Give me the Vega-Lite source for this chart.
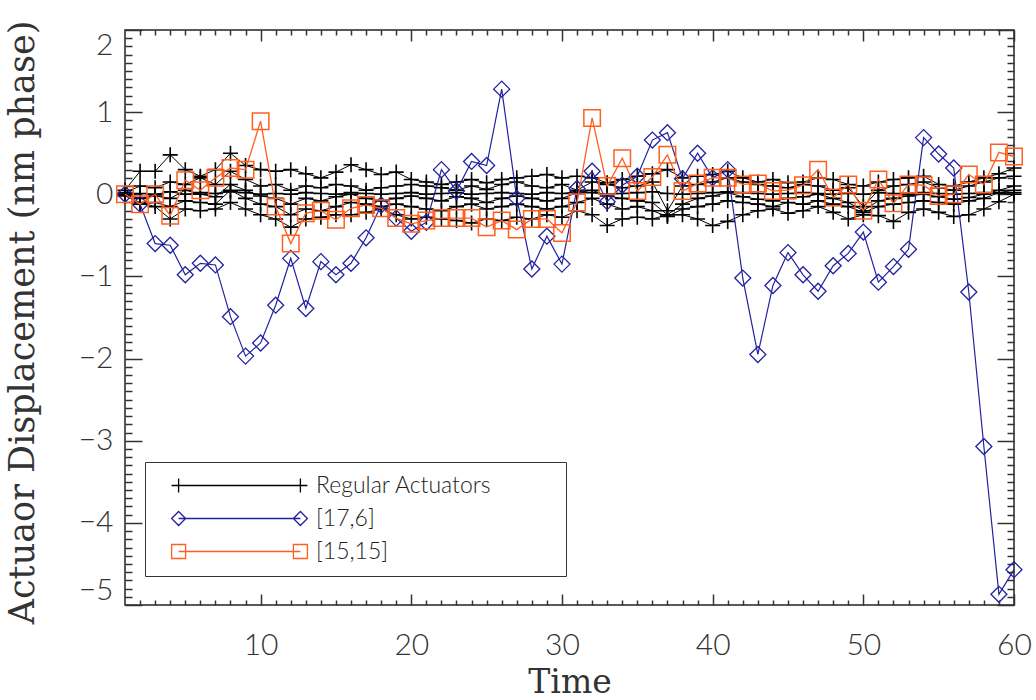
{
"$schema":"https://vega.github.io/schema/vega-lite/v6.json",
"width":889,"height":575,
"autosize":{"type":"none"},
"padding":{"left":125,"top":30,"right":22,"bottom":95},
"background":"white",
"config":{
"view":{"stroke":"#222","strokeWidth":1.5},
"axis":{"domain":false,"grid":false,"tickColor":"#333","tickWidth":1.5,"labelFont":"Lato","labelFontWeight":300,"labelFontSize":30,"labelColor":"#333","titleFont":"DejaVu Serif","titleFontSize":33,"titleColor":"#333","titleFontWeight":"normal"}
},
"datasets":{
"regular":[
{"a":1,"x":1,"y":0.05},{"a":1,"x":2,"y":0.28},{"a":1,"x":3,"y":0.28},{"a":1,"x":4,"y":0.48},{"a":1,"x":5,"y":0.3},{"a":1,"x":6,"y":0.22},{"a":1,"x":7,"y":0.3},{"a":1,"x":8,"y":0.5},{"a":1,"x":9,"y":0.35},{"a":1,"x":10,"y":0.3},
{"a":1,"x":11,"y":0.28},{"a":1,"x":12,"y":0.3},{"a":1,"x":13,"y":0.25},{"a":1,"x":14,"y":0.2},{"a":1,"x":15,"y":0.27},{"a":1,"x":16,"y":0.36},{"a":1,"x":17,"y":0.3},{"a":1,"x":18,"y":0.24},{"a":1,"x":19,"y":0.27},{"a":1,"x":20,"y":0.18},
{"a":1,"x":21,"y":0.15},{"a":1,"x":22,"y":0.12},{"a":1,"x":23,"y":0.15},{"a":1,"x":24,"y":0.18},{"a":1,"x":25,"y":0.14},{"a":1,"x":26,"y":0.18},{"a":1,"x":27,"y":0.2},{"a":1,"x":28,"y":0.22},{"a":1,"x":29,"y":0.24},{"a":1,"x":30,"y":0.2},
{"a":1,"x":31,"y":0.22},{"a":1,"x":32,"y":0.2},{"a":1,"x":33,"y":0.14},{"a":1,"x":34,"y":0.18},{"a":1,"x":35,"y":0.22},{"a":1,"x":36,"y":0.25},{"a":1,"x":37,"y":0.3},{"a":1,"x":38,"y":0.2},{"a":1,"x":39,"y":0.22},{"a":1,"x":40,"y":0.24},
{"a":1,"x":41,"y":0.28},{"a":1,"x":42,"y":0.2},{"a":1,"x":43,"y":0.15},{"a":1,"x":44,"y":0.18},{"a":1,"x":45,"y":0.14},{"a":1,"x":46,"y":0.15},{"a":1,"x":47,"y":0.2},{"a":1,"x":48,"y":0.18},{"a":1,"x":49,"y":0.12},{"a":1,"x":50,"y":0.1},
{"a":1,"x":51,"y":0.15},{"a":1,"x":52,"y":0.18},{"a":1,"x":53,"y":0.2},{"a":1,"x":54,"y":0.22},{"a":1,"x":55,"y":0.12},{"a":1,"x":56,"y":0.1},{"a":1,"x":57,"y":0.15},{"a":1,"x":58,"y":0.2},{"a":1,"x":59,"y":0.25},{"a":1,"x":60,"y":0.32},
{"a":2,"x":1,"y":0.02},{"a":2,"x":2,"y":0.1},{"a":2,"x":3,"y":0.08},{"a":2,"x":4,"y":0.15},{"a":2,"x":5,"y":0.12},{"a":2,"x":6,"y":0.2},{"a":2,"x":7,"y":0.12},{"a":2,"x":8,"y":0.28},{"a":2,"x":9,"y":0.18},{"a":2,"x":10,"y":0.1},
{"a":2,"x":11,"y":0.12},{"a":2,"x":12,"y":0.05},{"a":2,"x":13,"y":0.1},{"a":2,"x":14,"y":0.08},{"a":2,"x":15,"y":0.12},{"a":2,"x":16,"y":0.1},{"a":2,"x":17,"y":0.05},{"a":2,"x":18,"y":0.08},{"a":2,"x":19,"y":0.1},{"a":2,"x":20,"y":0.12},
{"a":2,"x":21,"y":0.1},{"a":2,"x":22,"y":0.08},{"a":2,"x":23,"y":0.05},{"a":2,"x":24,"y":0.1},{"a":2,"x":25,"y":0.06},{"a":2,"x":26,"y":0.12},{"a":2,"x":27,"y":0.15},{"a":2,"x":28,"y":0.1},{"a":2,"x":29,"y":0.08},{"a":2,"x":30,"y":0.12},
{"a":2,"x":31,"y":0.05},{"a":2,"x":32,"y":0.15},{"a":2,"x":33,"y":0.12},{"a":2,"x":34,"y":0.08},{"a":2,"x":35,"y":0.1},{"a":2,"x":36,"y":0.15},{"a":2,"x":37,"y":-0.2},{"a":2,"x":38,"y":0.1},{"a":2,"x":39,"y":0.12},{"a":2,"x":40,"y":0.15},
{"a":2,"x":41,"y":0.2},{"a":2,"x":42,"y":0.15},{"a":2,"x":43,"y":0.12},{"a":2,"x":44,"y":0.1},{"a":2,"x":45,"y":0.08},{"a":2,"x":46,"y":0.12},{"a":2,"x":47,"y":0.1},{"a":2,"x":48,"y":0.05},{"a":2,"x":49,"y":0.08},{"a":2,"x":50,"y":-0.15},
{"a":2,"x":51,"y":0.05},{"a":2,"x":52,"y":0.1},{"a":2,"x":53,"y":0.12},{"a":2,"x":54,"y":0.15},{"a":2,"x":55,"y":0.08},{"a":2,"x":56,"y":0.05},{"a":2,"x":57,"y":0.1},{"a":2,"x":58,"y":0.15},{"a":2,"x":59,"y":0.2},{"a":2,"x":60,"y":0.22},
{"a":3,"x":1,"y":0.0},{"a":3,"x":2,"y":0.01},{"a":3,"x":3,"y":0.0},{"a":3,"x":4,"y":0.03},{"a":3,"x":5,"y":0.0},{"a":3,"x":6,"y":0.02},{"a":3,"x":7,"y":0.01},{"a":3,"x":8,"y":0.03},{"a":3,"x":9,"y":0.02},{"a":3,"x":10,"y":0.0},
{"a":3,"x":11,"y":0.01},{"a":3,"x":12,"y":0.0},{"a":3,"x":13,"y":0.02},{"a":3,"x":14,"y":0.01},{"a":3,"x":15,"y":0.0},{"a":3,"x":16,"y":0.02},{"a":3,"x":17,"y":0.01},{"a":3,"x":18,"y":0.0},{"a":3,"x":19,"y":0.01},{"a":3,"x":20,"y":0.02},
{"a":3,"x":21,"y":0.0},{"a":3,"x":22,"y":0.01},{"a":3,"x":23,"y":0.02},{"a":3,"x":24,"y":0.0},{"a":3,"x":25,"y":0.01},{"a":3,"x":26,"y":0.02},{"a":3,"x":27,"y":0.01},{"a":3,"x":28,"y":0.0},{"a":3,"x":29,"y":0.02},{"a":3,"x":30,"y":0.01},
{"a":3,"x":31,"y":0.03},{"a":3,"x":32,"y":0.02},{"a":3,"x":33,"y":0.0},{"a":3,"x":34,"y":0.01},{"a":3,"x":35,"y":0.02},{"a":3,"x":36,"y":0.03},{"a":3,"x":37,"y":0.01},{"a":3,"x":38,"y":0.0},{"a":3,"x":39,"y":0.01},{"a":3,"x":40,"y":0.02},
{"a":3,"x":41,"y":0.03},{"a":3,"x":42,"y":0.02},{"a":3,"x":43,"y":0.01},{"a":3,"x":44,"y":0.0},{"a":3,"x":45,"y":0.01},{"a":3,"x":46,"y":0.02},{"a":3,"x":47,"y":0.01},{"a":3,"x":48,"y":0.0},{"a":3,"x":49,"y":0.01},{"a":3,"x":50,"y":0.0},
{"a":3,"x":51,"y":0.02},{"a":3,"x":52,"y":0.01},{"a":3,"x":53,"y":0.0},{"a":3,"x":54,"y":0.02},{"a":3,"x":55,"y":0.01},{"a":3,"x":56,"y":0.0},{"a":3,"x":57,"y":0.01},{"a":3,"x":58,"y":0.02},{"a":3,"x":59,"y":0.01},{"a":3,"x":60,"y":0.02},
{"a":4,"x":1,"y":0.0},{"a":4,"x":2,"y":-0.05},{"a":4,"x":3,"y":-0.02},{"a":4,"x":4,"y":-0.05},{"a":4,"x":5,"y":0.05},{"a":4,"x":6,"y":0.0},{"a":4,"x":7,"y":-0.03},{"a":4,"x":8,"y":0.12},{"a":4,"x":9,"y":0.05},{"a":4,"x":10,"y":-0.02},
{"a":4,"x":11,"y":-0.05},{"a":4,"x":12,"y":-0.12},{"a":4,"x":13,"y":-0.05},{"a":4,"x":14,"y":-0.08},{"a":4,"x":15,"y":-0.03},{"a":4,"x":16,"y":0.0},{"a":4,"x":17,"y":-0.05},{"a":4,"x":18,"y":-0.08},{"a":4,"x":19,"y":-0.05},{"a":4,"x":20,"y":-0.02},
{"a":4,"x":21,"y":-0.05},{"a":4,"x":22,"y":-0.08},{"a":4,"x":23,"y":-0.03},{"a":4,"x":24,"y":-0.05},{"a":4,"x":25,"y":-0.1},{"a":4,"x":26,"y":-0.05},{"a":4,"x":27,"y":-0.02},{"a":4,"x":28,"y":-0.05},{"a":4,"x":29,"y":-0.08},{"a":4,"x":30,"y":-0.05},
{"a":4,"x":31,"y":0.02},{"a":4,"x":32,"y":0.05},{"a":4,"x":33,"y":-0.02},{"a":4,"x":34,"y":-0.05},{"a":4,"x":35,"y":-0.08},{"a":4,"x":36,"y":-0.1},{"a":4,"x":37,"y":-0.25},{"a":4,"x":38,"y":-0.12},{"a":4,"x":39,"y":-0.05},{"a":4,"x":40,"y":-0.02},
{"a":4,"x":41,"y":0.02},{"a":4,"x":42,"y":-0.03},{"a":4,"x":43,"y":-0.06},{"a":4,"x":44,"y":-0.08},{"a":4,"x":45,"y":-0.05},{"a":4,"x":46,"y":-0.03},{"a":4,"x":47,"y":0.0},{"a":4,"x":48,"y":-0.05},{"a":4,"x":49,"y":-0.1},{"a":4,"x":50,"y":-0.2},
{"a":4,"x":51,"y":-0.08},{"a":4,"x":52,"y":-0.05},{"a":4,"x":53,"y":-0.02},{"a":4,"x":54,"y":0.0},{"a":4,"x":55,"y":-0.03},{"a":4,"x":56,"y":-0.06},{"a":4,"x":57,"y":-0.04},{"a":4,"x":58,"y":0.0},{"a":4,"x":59,"y":0.05},{"a":4,"x":60,"y":0.1},
{"a":5,"x":1,"y":-0.01},{"a":5,"x":2,"y":-0.12},{"a":5,"x":3,"y":-0.1},{"a":5,"x":4,"y":-0.15},{"a":5,"x":5,"y":-0.08},{"a":5,"x":6,"y":-0.1},{"a":5,"x":7,"y":-0.12},{"a":5,"x":8,"y":0.05},{"a":5,"x":9,"y":-0.05},{"a":5,"x":10,"y":-0.12},
{"a":5,"x":11,"y":-0.15},{"a":5,"x":12,"y":-0.25},{"a":5,"x":13,"y":-0.18},{"a":5,"x":14,"y":-0.2},{"a":5,"x":15,"y":-0.15},{"a":5,"x":16,"y":-0.1},{"a":5,"x":17,"y":-0.12},{"a":5,"x":18,"y":-0.15},{"a":5,"x":19,"y":-0.12},{"a":5,"x":20,"y":-0.15},
{"a":5,"x":21,"y":-0.18},{"a":5,"x":22,"y":-0.2},{"a":5,"x":23,"y":-0.15},{"a":5,"x":24,"y":-0.12},{"a":5,"x":25,"y":-0.18},{"a":5,"x":26,"y":-0.15},{"a":5,"x":27,"y":-0.12},{"a":5,"x":28,"y":-0.15},{"a":5,"x":29,"y":-0.18},{"a":5,"x":30,"y":-0.15},
{"a":5,"x":31,"y":-0.1},{"a":5,"x":32,"y":-0.05},{"a":5,"x":33,"y":-0.12},{"a":5,"x":34,"y":-0.18},{"a":5,"x":35,"y":-0.15},{"a":5,"x":36,"y":-0.2},{"a":5,"x":37,"y":-0.27},{"a":5,"x":38,"y":-0.18},{"a":5,"x":39,"y":-0.15},{"a":5,"x":40,"y":-0.12},
{"a":5,"x":41,"y":-0.08},{"a":5,"x":42,"y":-0.1},{"a":5,"x":43,"y":-0.12},{"a":5,"x":44,"y":-0.15},{"a":5,"x":45,"y":-0.1},{"a":5,"x":46,"y":-0.12},{"a":5,"x":47,"y":-0.08},{"a":5,"x":48,"y":-0.12},{"a":5,"x":49,"y":-0.15},{"a":5,"x":50,"y":-0.22},
{"a":5,"x":51,"y":-0.15},{"a":5,"x":52,"y":-0.12},{"a":5,"x":53,"y":-0.1},{"a":5,"x":54,"y":-0.08},{"a":5,"x":55,"y":-0.1},{"a":5,"x":56,"y":-0.12},{"a":5,"x":57,"y":-0.08},{"a":5,"x":58,"y":-0.05},{"a":5,"x":59,"y":0.02},{"a":5,"x":60,"y":0.05},
{"a":6,"x":1,"y":-0.02},{"a":6,"x":2,"y":-0.1},{"a":6,"x":3,"y":-0.15},{"a":6,"x":4,"y":-0.3},{"a":6,"x":5,"y":-0.18},{"a":6,"x":6,"y":-0.2},{"a":6,"x":7,"y":-0.18},{"a":6,"x":8,"y":-0.1},{"a":6,"x":9,"y":-0.18},{"a":6,"x":10,"y":-0.25},
{"a":6,"x":11,"y":-0.3},{"a":6,"x":12,"y":-0.4},{"a":6,"x":13,"y":-0.3},{"a":6,"x":14,"y":-0.28},{"a":6,"x":15,"y":-0.25},{"a":6,"x":16,"y":-0.25},{"a":6,"x":17,"y":-0.22},{"a":6,"x":18,"y":-0.18},{"a":6,"x":19,"y":-0.25},{"a":6,"x":20,"y":-0.3},
{"a":6,"x":21,"y":-0.28},{"a":6,"x":22,"y":-0.3},{"a":6,"x":23,"y":-0.32},{"a":6,"x":24,"y":-0.35},{"a":6,"x":25,"y":-0.3},{"a":6,"x":26,"y":-0.32},{"a":6,"x":27,"y":-0.28},{"a":6,"x":28,"y":-0.3},{"a":6,"x":29,"y":-0.25},{"a":6,"x":30,"y":-0.28},
{"a":6,"x":31,"y":-0.2},{"a":6,"x":32,"y":-0.25},{"a":6,"x":33,"y":-0.38},{"a":6,"x":34,"y":-0.3},{"a":6,"x":35,"y":-0.28},{"a":6,"x":36,"y":-0.3},{"a":6,"x":37,"y":-0.25},{"a":6,"x":38,"y":-0.25},{"a":6,"x":39,"y":-0.3},{"a":6,"x":40,"y":-0.38},
{"a":6,"x":41,"y":-0.33},{"a":6,"x":42,"y":-0.25},{"a":6,"x":43,"y":-0.2},{"a":6,"x":44,"y":-0.18},{"a":6,"x":45,"y":-0.23},{"a":6,"x":46,"y":-0.2},{"a":6,"x":47,"y":-0.15},{"a":6,"x":48,"y":-0.22},{"a":6,"x":49,"y":-0.3},{"a":6,"x":50,"y":-0.25},
{"a":6,"x":51,"y":-0.26},{"a":6,"x":52,"y":-0.33},{"a":6,"x":53,"y":-0.22},{"a":6,"x":54,"y":-0.18},{"a":6,"x":55,"y":-0.22},{"a":6,"x":56,"y":-0.27},{"a":6,"x":57,"y":-0.25},{"a":6,"x":58,"y":-0.18},{"a":6,"x":59,"y":-0.09},{"a":6,"x":60,"y":0.0}
],
"a176":[
{"x":1,"y":0.0},{"x":2,"y":-0.12},{"x":3,"y":-0.6},{"x":4,"y":-0.62},{"x":5,"y":-0.98},{"x":6,"y":-0.84},{"x":7,"y":-0.86},{"x":8,"y":-1.49},{"x":9,"y":-1.97},{"x":10,"y":-1.81},
{"x":11,"y":-1.35},{"x":12,"y":-0.78},{"x":13,"y":-1.39},{"x":14,"y":-0.82},{"x":15,"y":-0.98},{"x":16,"y":-0.84},{"x":17,"y":-0.53},{"x":18,"y":-0.13},{"x":19,"y":-0.29},{"x":20,"y":-0.45},
{"x":21,"y":-0.34},{"x":22,"y":0.3},{"x":23,"y":0.04},{"x":24,"y":0.4},{"x":25,"y":0.35},{"x":26,"y":1.28},{"x":27,"y":-0.05},{"x":28,"y":-0.91},{"x":29,"y":-0.51},{"x":30,"y":-0.85},
{"x":31,"y":0.07},{"x":32,"y":0.28},{"x":33,"y":-0.09},{"x":34,"y":0.11},{"x":35,"y":0.22},{"x":36,"y":0.66},{"x":37,"y":0.75},{"x":38,"y":0.19},{"x":39,"y":0.5},{"x":40,"y":0.2},
{"x":41,"y":0.3},{"x":42,"y":-1.02},{"x":43,"y":-1.95},{"x":44,"y":-1.11},{"x":45,"y":-0.71},{"x":46,"y":-0.98},{"x":47,"y":-1.18},{"x":48,"y":-0.87},{"x":49,"y":-0.72},{"x":50,"y":-0.46},
{"x":51,"y":-1.07},{"x":52,"y":-0.88},{"x":53,"y":-0.67},{"x":54,"y":0.69},{"x":55,"y":0.49},{"x":56,"y":0.32},{"x":57,"y":-1.19},{"x":58,"y":-3.07},{"x":59,"y":-4.87},{"x":60,"y":-4.57}
],
"a1515":[
{"x":1,"y":0.0},{"x":2,"y":-0.12},{"x":3,"y":0.0},{"x":4,"y":-0.26},{"x":5,"y":0.17},{"x":6,"y":0.05},{"x":7,"y":0.2},{"x":8,"y":0.32},{"x":9,"y":0.3},{"x":10,"y":0.89},
{"x":11,"y":-0.15},{"x":12,"y":-0.6},{"x":13,"y":-0.23},{"x":14,"y":-0.2},{"x":15,"y":-0.31},{"x":16,"y":-0.17},{"x":17,"y":-0.13},{"x":18,"y":-0.17},{"x":19,"y":-0.29},{"x":20,"y":-0.36},
{"x":21,"y":-0.32},{"x":22,"y":-0.29},{"x":23,"y":-0.29},{"x":24,"y":-0.29},{"x":25,"y":-0.4},{"x":26,"y":-0.32},{"x":27,"y":-0.43},{"x":28,"y":-0.3},{"x":29,"y":-0.3},{"x":30,"y":-0.47},
{"x":31,"y":-0.1},{"x":32,"y":0.93},{"x":33,"y":0.1},{"x":34,"y":0.44},{"x":35,"y":0.04},{"x":36,"y":0.21},{"x":37,"y":0.48},{"x":38,"y":0.04},{"x":39,"y":0.13},{"x":40,"y":0.2},
{"x":41,"y":0.2},{"x":42,"y":0.12},{"x":43,"y":0.13},{"x":44,"y":0.04},{"x":45,"y":0.05},{"x":46,"y":0.11},{"x":47,"y":0.3},{"x":48,"y":-0.04},{"x":49,"y":0.12},{"x":50,"y":-0.2},
{"x":51,"y":0.18},{"x":52,"y":-0.11},{"x":53,"y":0.12},{"x":54,"y":0.11},{"x":55,"y":-0.02},{"x":56,"y":0.0},{"x":57,"y":0.24},{"x":58,"y":0.12},{"x":59,"y":0.51},{"x":60,"y":0.46}
]
},
"resolve":{"axis":{"x":"independent","y":"independent"}},
"layer":[
{"data":{"name":"regular"},"mark":{"type":"line","strokeWidth":1},
"encoding":{
"x":{"field":"x","type":"quantitative","scale":{"domain":[1,60],"nice":false,"zero":false},"axis":{"orient":"bottom","values":[10,20,30,40,50,60],"ticks":false,"labelPadding":25,"labelFlush":false,"title":"Time","titleY":87,"titleBaseline":"alphabetic"}},
"y":{"field":"y","type":"quantitative","scale":{"domain":[-5,2],"nice":false,"zero":false},"axis":{"orient":"left","values":[-5,-4,-3,-2,-1,0,1,2],"ticks":false,"labelPadding":12,"labelFlush":true,"labelExpr":"datum.value < 0 ? '−' + abs(datum.value) : datum.label","title":"Actuaor Displacement (nm phase)","titleFontSize":35,"titleX":-92,"titleY":292,"titleAngle":270,"titleAlign":"center","titleBaseline":"alphabetic"}},
"detail":{"field":"a"},
"color":{"datum":"Regular Actuators","type":"nominal","scale":{"domain":["Regular Actuators","[17,6]","[15,15]"],"range":["#000000","#2222a0","#ff5f1f"]},
"legend":{"orient":"none","legendX":20,"legendY":432,"title":" ","titleOrient":"right","titlePadding":62,"titleFontSize":10,"strokeColor":"#333","fillColor":"white","padding":12,"rowPadding":9,"labelFont":"Lato","labelFontWeight":300,"labelFontSize":23,"labelColor":"#222","labelLimit":600,"symbolSize":196,"symbolOffset":71,"labelOffset":65,
"encode":{"symbols":{"update":{
"shape":{"signal":"datum.value === '[17,6]' ? 'M-8.7,0L8.7,0M-9.7,0L-8.7,-1L-7.7,0L-8.7,1ZM7.7,0L8.7,-1L9.7,0L8.7,1Z' : datum.value === '[15,15]' ? 'M-8.7,0L8.7,0M-9.7,-1L-7.7,-1L-7.7,1L-9.7,1ZM7.7,-1L9.7,-1L9.7,1L7.7,1Z' : 'M-9.7,0L9.7,0M-8.7,-1L-8.7,1M8.7,-1L8.7,1'"},
"stroke":{"signal":"datum.value === '[17,6]' ? '#2222a0' : datum.value === '[15,15]' ? '#ff5f1f' : '#000000'"},
"fill":{"value":"transparent"},
"strokeWidth":{"value":1.3}
}}}}}
}},
{"data":{"name":"regular"},"mark":{"type":"point","shape":"M-1,0L1,0M0,-1L0,1","filled":false,"size":225,"strokeWidth":1.6,"opacity":1},
"encoding":{
"x":{"field":"x","type":"quantitative","axis":{"orient":"bottom","values":[10,20,30,40,50,60],"labels":false,"tickSize":-11,"title":null}},
"y":{"field":"y","type":"quantitative","axis":{"orient":"left","values":[-5,-4,-3,-2,-1,0,1,2],"labels":false,"tickSize":-17,"title":null}},
"detail":{"field":"a"},
"color":{"datum":"Regular Actuators","type":"nominal"}
}},
{"data":{"name":"a176"},"mark":{"type":"line","strokeWidth":1.2},
"encoding":{
"x":{"field":"x","type":"quantitative","axis":{"orient":"top","values":[10,20,30,40,50,60],"labels":false,"tickSize":-11,"title":null}},
"y":{"field":"y","type":"quantitative","axis":{"orient":"right","values":[-5,-4,-3,-2,-1,0,1,2],"labels":false,"tickSize":-17,"title":null}},
"color":{"datum":"[17,6]","type":"nominal"}
}},
{"data":{"name":"a176"},"mark":{"type":"point","shape":"diamond","filled":false,"size":256,"strokeWidth":1.3,"opacity":1},
"encoding":{
"x":{"field":"x","type":"quantitative","axis":{"orient":"bottom","values":[2,3,4,5,6,7,8,9,11,12,13,14,15,16,17,18,19,21,22,23,24,25,26,27,28,29,31,32,33,34,35,36,37,38,39,41,42,43,44,45,46,47,48,49,51,52,53,54,55,56,57,58,59],"labels":false,"tickSize":-5,"title":null}},
"y":{"field":"y","type":"quantitative","axis":{"orient":"left","values":[-4.9,-4.8,-4.7,-4.6,-4.5,-4.4,-4.3,-4.2,-4.1,-3.9,-3.8,-3.7,-3.6,-3.5,-3.4,-3.3,-3.2,-3.1,-2.9,-2.8,-2.7,-2.6,-2.5,-2.4,-2.3,-2.2,-2.1,-1.9,-1.8,-1.7,-1.6,-1.5,-1.4,-1.3,-1.2,-1.1,-0.9,-0.8,-0.7,-0.6,-0.5,-0.4,-0.3,-0.2,-0.1,0.1,0.2,0.3,0.4,0.5,0.6,0.7,0.8,0.9,1.1,1.2,1.3,1.4,1.5,1.6,1.7,1.8,1.9],"labels":false,"tickSize":-7,"title":null}},
"color":{"datum":"[17,6]","type":"nominal"}
}},
{"data":{"name":"a1515"},"mark":{"type":"line","strokeWidth":1.3},
"encoding":{
"x":{"field":"x","type":"quantitative","axis":{"orient":"top","values":[2,3,4,5,6,7,8,9,11,12,13,14,15,16,17,18,19,21,22,23,24,25,26,27,28,29,31,32,33,34,35,36,37,38,39,41,42,43,44,45,46,47,48,49,51,52,53,54,55,56,57,58,59],"labels":false,"tickSize":-5,"title":null}},
"y":{"field":"y","type":"quantitative","axis":{"orient":"right","values":[-4.9,-4.8,-4.7,-4.6,-4.5,-4.4,-4.3,-4.2,-4.1,-3.9,-3.8,-3.7,-3.6,-3.5,-3.4,-3.3,-3.2,-3.1,-2.9,-2.8,-2.7,-2.6,-2.5,-2.4,-2.3,-2.2,-2.1,-1.9,-1.8,-1.7,-1.6,-1.5,-1.4,-1.3,-1.2,-1.1,-0.9,-0.8,-0.7,-0.6,-0.5,-0.4,-0.3,-0.2,-0.1,0.1,0.2,0.3,0.4,0.5,0.6,0.7,0.8,0.9,1.1,1.2,1.3,1.4,1.5,1.6,1.7,1.8,1.9],"labels":false,"tickSize":-7,"title":null}},
"color":{"datum":"[15,15]","type":"nominal"}
}},
{"data":{"name":"a1515"},"mark":{"type":"point","shape":"square","filled":false,"size":272,"strokeWidth":1.5,"opacity":1},
"encoding":{
"x":{"field":"x","type":"quantitative","axis":null},
"y":{"field":"y","type":"quantitative","axis":null},
"color":{"datum":"[15,15]","type":"nominal"}
}}
]
}
